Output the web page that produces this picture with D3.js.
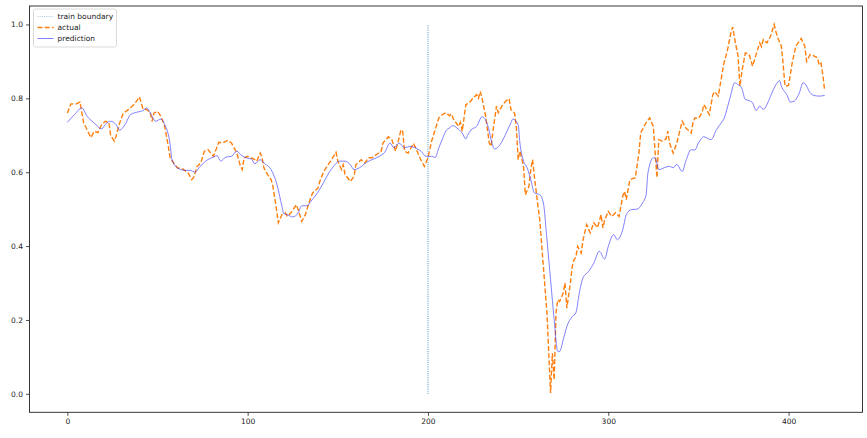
<!DOCTYPE html>
<html>
<head>
<meta charset="utf-8">
<script src="https://cdn.jsdelivr.net/npm/d3@7"></script>
<style>
  body { margin: 0; background: #fff; }
  text { font-family: "DejaVu Sans", sans-serif; }
</style>
</head>
<body>
<div id="chart"></div>
<script>
// Data
const actualX = [0,2,5,7,9,13,15,17,19,21,23,24,26,27,29,31,34,37,40,42,44,46,47,48,50,52,54,56,57,59,61,64,67,69,70,72,74,76,78,81,84,86,89,91,94,96,97,98,100,102,104,105,107,108,109,111,113,114,116,117,119,121,122,124,127,128,130,132,134,136,139,140,142,144,146,149,150,152,153,154,157,159,160,163,165,167,169,172,174,175,178,180,182,184,185,186,187,189,192,194,196,198,200,202,204,206,208,210,212,213,214,215,217,218,219,221,223,225,227,228,229,230,232,234,235,236,238,239,241,243,245,246,248,249,250,251,253,254,256,257,258,259,261,262,264,266,267,268,269,270,271,272,273,275,276,277,279,280,281,282,283,285,286,288,290,292,294,296,297,298,300,302,304,306,308,309,310,312,315,317,318,321,323,325,326,327,328,330,332,333,334,336,338,341,343,346,347,348,350,352,353,354,356,358,359,361,364,366,368,369,370,372,373,374,376,378,379,380,382,384,385,386,388,390,392,393,394,396,397,398,400,402,404,407,409,410,412,414,416,417,418,419,420];
const actualY = [0.76,0.785,0.785,0.79,0.734,0.694,0.711,0.707,0.729,0.738,0.735,0.70,0.684,0.697,0.733,0.76,0.77,0.783,0.804,0.77,0.77,0.76,0.738,0.76,0.765,0.75,0.724,0.67,0.639,0.625,0.612,0.609,0.598,0.58,0.585,0.616,0.625,0.657,0.661,0.643,0.681,0.679,0.686,0.679,0.652,0.616,0.607,0.639,0.643,0.639,0.634,0.63,0.652,0.64,0.612,0.594,0.58,0.562,0.499,0.463,0.485,0.49,0.48,0.49,0.512,0.499,0.467,0.485,0.517,0.544,0.557,0.575,0.60,0.616,0.63,0.654,0.63,0.607,0.62,0.594,0.575,0.589,0.62,0.634,0.625,0.639,0.639,0.65,0.655,0.679,0.696,0.688,0.657,0.693,0.715,0.71,0.657,0.652,0.678,0.657,0.634,0.616,0.639,0.684,0.715,0.747,0.756,0.761,0.753,0.758,0.745,0.738,0.724,0.735,0.711,0.783,0.788,0.801,0.81,0.80,0.819,0.80,0.751,0.679,0.67,0.71,0.779,0.761,0.779,0.792,0.799,0.77,0.76,0.724,0.634,0.657,0.616,0.539,0.562,0.607,0.634,0.589,0.508,0.472,0.345,0.219,0.11,0.002,0.11,0.038,0.219,0.255,0.25,0.273,0.30,0.232,0.30,0.345,0.363,0.37,0.399,0.381,0.417,0.458,0.436,0.463,0.45,0.485,0.449,0.47,0.494,0.48,0.49,0.48,0.535,0.548,0.526,0.58,0.585,0.652,0.707,0.734,0.747,0.724,0.652,0.585,0.688,0.684,0.69,0.711,0.679,0.652,0.679,0.738,0.72,0.706,0.734,0.747,0.745,0.761,0.783,0.775,0.756,0.81,0.818,0.806,0.892,0.928,0.977,0.993,0.964,0.914,0.833,0.869,0.923,0.92,0.905,0.887,0.919,0.95,0.94,0.959,0.95,0.968,1.0,0.98,0.964,0.941,0.892,0.833,0.835,0.896,0.941,0.962,0.941,0.90,0.919,0.915,0.91,0.89,0.895,0.864,0.821];

const predX = [0,4,8,11,15,19,21,24,27,29,32,35,39,42,44,46,49,52,54,57,58,61,65,68,71,73,77,81,83,85,88,91,94,96,99,102,104,107,109,113,116,119,120,122,125,128,130,133,135,138,142,145,147,151,154,157,159,162,166,170,173,176,179,181,184,187,190,193,196,199,202,204,206,208,210,212,214,216,219,221,222,224,227,230,231,234,235,237,240,243,246,247,250,251,253,255,257,259,262,264,266,268,270,272,273,275,277,280,282,284,286,289,292,295,298,300,303,305,308,310,313,316,319,321,322,325,326,328,331,334,336,338,341,343,346,348,350,353,355,357,360,363,364,366,368,370,372,374,376,378,380,382,384,386,388,390,393,395,396,399,401,403,406,408,409,412,414,417,420];
const predY = [0.735,0.756,0.774,0.751,0.733,0.717,0.729,0.738,0.729,0.714,0.729,0.756,0.763,0.767,0.774,0.76,0.738,0.744,0.729,0.675,0.634,0.612,0.605,0.605,0.60,0.612,0.631,0.641,0.645,0.63,0.641,0.643,0.657,0.648,0.639,0.636,0.623,0.634,0.625,0.607,0.571,0.508,0.488,0.485,0.479,0.49,0.509,0.509,0.521,0.539,0.571,0.598,0.612,0.63,0.63,0.62,0.607,0.612,0.627,0.636,0.643,0.654,0.679,0.666,0.679,0.666,0.67,0.666,0.657,0.643,0.643,0.64,0.666,0.69,0.712,0.72,0.726,0.72,0.706,0.69,0.70,0.715,0.724,0.75,0.748,0.711,0.688,0.663,0.675,0.702,0.734,0.744,0.729,0.679,0.63,0.612,0.58,0.544,0.539,0.517,0.417,0.309,0.20,0.115,0.115,0.146,0.182,0.209,0.219,0.275,0.314,0.331,0.354,0.386,0.365,0.399,0.431,0.417,0.444,0.485,0.499,0.50,0.517,0.539,0.598,0.639,0.639,0.607,0.612,0.616,0.612,0.621,0.602,0.63,0.661,0.66,0.679,0.696,0.692,0.688,0.715,0.736,0.743,0.774,0.81,0.842,0.837,0.828,0.797,0.794,0.788,0.767,0.779,0.77,0.783,0.806,0.837,0.848,0.833,0.81,0.79,0.792,0.815,0.842,0.84,0.815,0.808,0.806,0.808];

const boundaryX = 200;
const boundaryRange = [0, 1];
const xTicks = [0, 100, 200, 300, 400];
const yTicks = [0.0, 0.2, 0.4, 0.6, 0.8, 1.0];
const legendLabels = ['train boundary', 'actual', 'prediction'];

const W = 867, H = 438;
const margin = { top: 6, right: 4.5, bottom: 25.7, left: 29.5 };
const width = W - margin.left - margin.right;
const height = H - margin.top - margin.bottom;

const svg = d3.select('#chart')
    .append('svg')
    .attr('width', W)
    .attr('height', H);

const g = svg.append('g')
    .attr('transform', `translate(${margin.left}, ${margin.top})`);

// matplotlib-like 5% margins
const xMax = d3.max(actualX);
const xScale = d3.scaleLinear()
    .domain([-0.05 * xMax, 1.05 * xMax])
    .range([0, width]);
const yScale = d3.scaleLinear()
    .domain([-0.05, 1.05])
    .range([height, 0]);

// axes
const xAxis = g.append('g')
    .attr('transform', `translate(0, ${height})`)
    .call(d3.axisBottom(xScale).tickValues(xTicks).tickSize(3.5).tickPadding(3).tickFormat(d3.format('d')));
const yAxis = g.append('g')
    .call(d3.axisLeft(yScale).tickValues(yTicks).tickSize(3.5).tickPadding(3).tickFormat(d3.format('.1f')));
[xAxis, yAxis].forEach(a => {
    a.select('.domain').remove();
    a.selectAll('line').attr('stroke', '#222').attr('stroke-width', 0.8);
    a.selectAll('text').attr('font-size', 7.5).attr('fill', '#222');
});

// boundary line
g.append('line')
    .attr('x1', xScale(boundaryX)).attr('x2', xScale(boundaryX))
    .attr('y1', yScale(boundaryRange[0])).attr('y2', yScale(boundaryRange[1]))
    .attr('stroke', '#1f77b4')
    .attr('stroke-width', 0.8)
    .attr('stroke-dasharray', '1,1.2');

// actual
const actualData = actualX.map((x, i) => [x, actualY[i]]);
g.append('path')
    .datum(actualData)
    .attr('fill', 'none')
    .attr('stroke', '#ff7f0e')
    .attr('stroke-width', 1.4)
    .attr('stroke-dasharray', '5,2.2')
    .attr('d', d3.line().x(d => xScale(d[0])).y(d => yScale(d[1])));

// prediction
const predData = predX.map((x, i) => [x, predY[i]]);
g.append('path')
    .datum(predData)
    .attr('fill', 'none')
    .attr('stroke', '#3b3bff')
    .attr('stroke-opacity', 0.8)
    .attr('stroke-width', 0.8)
    .attr('d', d3.line().curve(d3.curveMonotoneX).x(d => xScale(d[0])).y(d => yScale(d[1])));

// frame
g.append('rect')
    .attr('width', width).attr('height', height)
    .attr('fill', 'none')
    .attr('stroke', '#222')
    .attr('stroke-width', 0.9);

// legend
const legend = g.append('g').attr('transform', 'translate(4, 3)');
legend.append('rect')
    .attr('width', 83).attr('height', 38)
    .attr('rx', 2)
    .attr('fill', 'white').attr('fill-opacity', 0.8)
    .attr('stroke', '#d0d0d0').attr('stroke-width', 0.8);
const legendStyles = [
    { color: '#1f77b4', width: 0.8, dash: '1,1.2', opacity: 0.5 },
    { color: '#ff7f0e', width: 1.4, dash: '5,2.2', opacity: 1 },
    { color: '#3b3bff', width: 0.8, dash: null, opacity: 0.8 }
];
legendLabels.forEach((label, i) => {
    const y = 7.5 + i * 11;
    legend.append('line')
        .attr('x1', 4).attr('x2', 20).attr('y1', y).attr('y2', y)
        .attr('stroke', legendStyles[i].color)
        .attr('stroke-width', legendStyles[i].width)
        .attr('stroke-opacity', legendStyles[i].opacity)
        .attr('stroke-dasharray', legendStyles[i].dash);
    legend.append('text')
        .attr('x', 24).attr('y', y)
        .attr('dy', '0.35em')
        .attr('font-size', 7.5)
        .attr('fill', '#222')
        .text(label);
});
</script>
</body>
</html>
